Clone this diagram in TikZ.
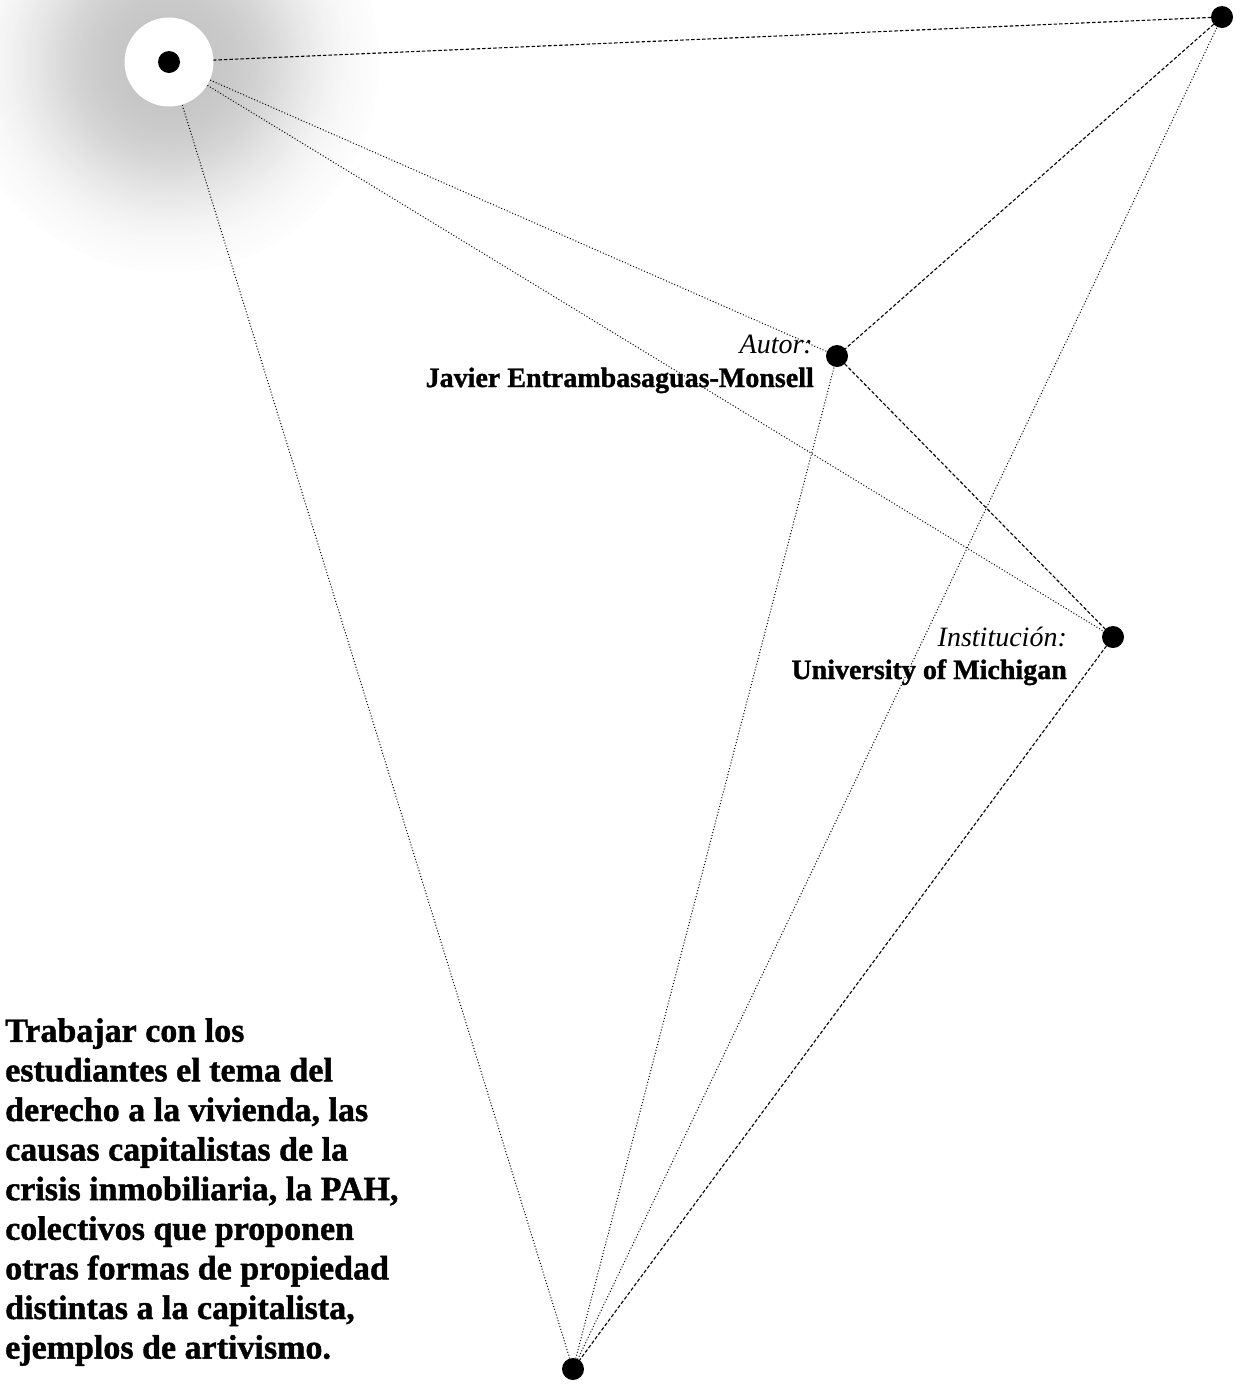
\documentclass[tikz,border=0pt]{standalone}
\usepackage{fontspec}
\setmainfont{Liberation Serif}[BoldFeatures={FakeBold=1.2}]
\usetikzlibrary{backgrounds}
\tikzset{
  dotnode/.style={circle, fill=black, inner sep=0pt, minimum size=22pt},
  halo/.style={circle, fill=white, inner sep=0pt, minimum size=89pt},
  dashlink/.style={line width=1.1pt, dash pattern=on 3.5pt off 2pt, black},
  dotlink/.style={line width=1pt, dash pattern=on 1pt off 2pt, black},
  roletext/.style={inner sep=0pt, anchor=base east, font=\itshape\fontsize{28}{33}\selectfont},
  nametext/.style={inner sep=0pt, anchor=base east, font=\bfseries\fontsize{28}{33}\selectfont},
}
\begin{document}
\begin{tikzpicture}[x=1pt, y=-1pt]
\useasboundingbox (0,0) rectangle (1240,1393);
% nodes
\node[halo] (hub) at (169,62) {};
\node[dotnode] (hubdot) at (169,62) {};
\node[dotnode] (tr) at (1222,17) {};
\node[dotnode] (autor) at (837,356) {};
\node[dotnode] (inst) at (1113,637) {};
\node[dotnode] (bot) at (573,1369) {};
% labels
\node[roletext] (autorlbl) at (813,353) {Autor:};
\node[nametext] (autorname) at (814,387) {Javier Entrambasaguas-Monsell};
\node[roletext] (instlbl) at (1067,646) {Institución:};
\node[nametext] (instname) at (1067,679) {University of Michigan};
\node[anchor=north west, inner sep=0pt, align=left, font=\bfseries\fontsize{34}{39.6}\selectfont] (para) at (5,1018)
 {Trabajar con los\\
  estudiantes el tema del\\
  derecho a la vivienda, las\\
  causas capitalistas de la\\
  crisis inmobiliaria, la PAH,\\
  colectivos que proponen\\
  otras formas de propiedad\\
  distintas a la capitalista,\\
  ejemplos de artivismo.};
% background: glow and connectors
\begin{scope}[on background layer]
  \begin{scope}
    \clip (0,0) rectangle (1240,1393);
    \foreach \i in {105,104,...,1} {
      \pgfmathsetmacro{\rr}{2*\i}
      \pgfmathsetmacro{\gv}{23*exp(-(\rr/140)^3)}
      \fill[black!\gv] (hub.center) circle (\rr);
    }
  \end{scope}
  \draw[dashlink] (hub.center) -- (tr.center);
  \draw[dotlink] (hub.center) -- (autor.center);
  \draw[dotlink] (hub.center) -- (inst.center);
  \draw[dotlink] (hub.center) -- (bot.center);
  \draw[dashlink] (tr.center) -- (autor.center);
  \draw[dotlink] (tr.center) -- (bot.center);
  \draw[dashlink] (autor.center) -- (inst.center);
  \draw[dotlink] (autor.center) -- (bot.center);
  \draw[dashlink] (inst.center) -- (bot.center);
\end{scope}
\end{tikzpicture}
\end{document}
